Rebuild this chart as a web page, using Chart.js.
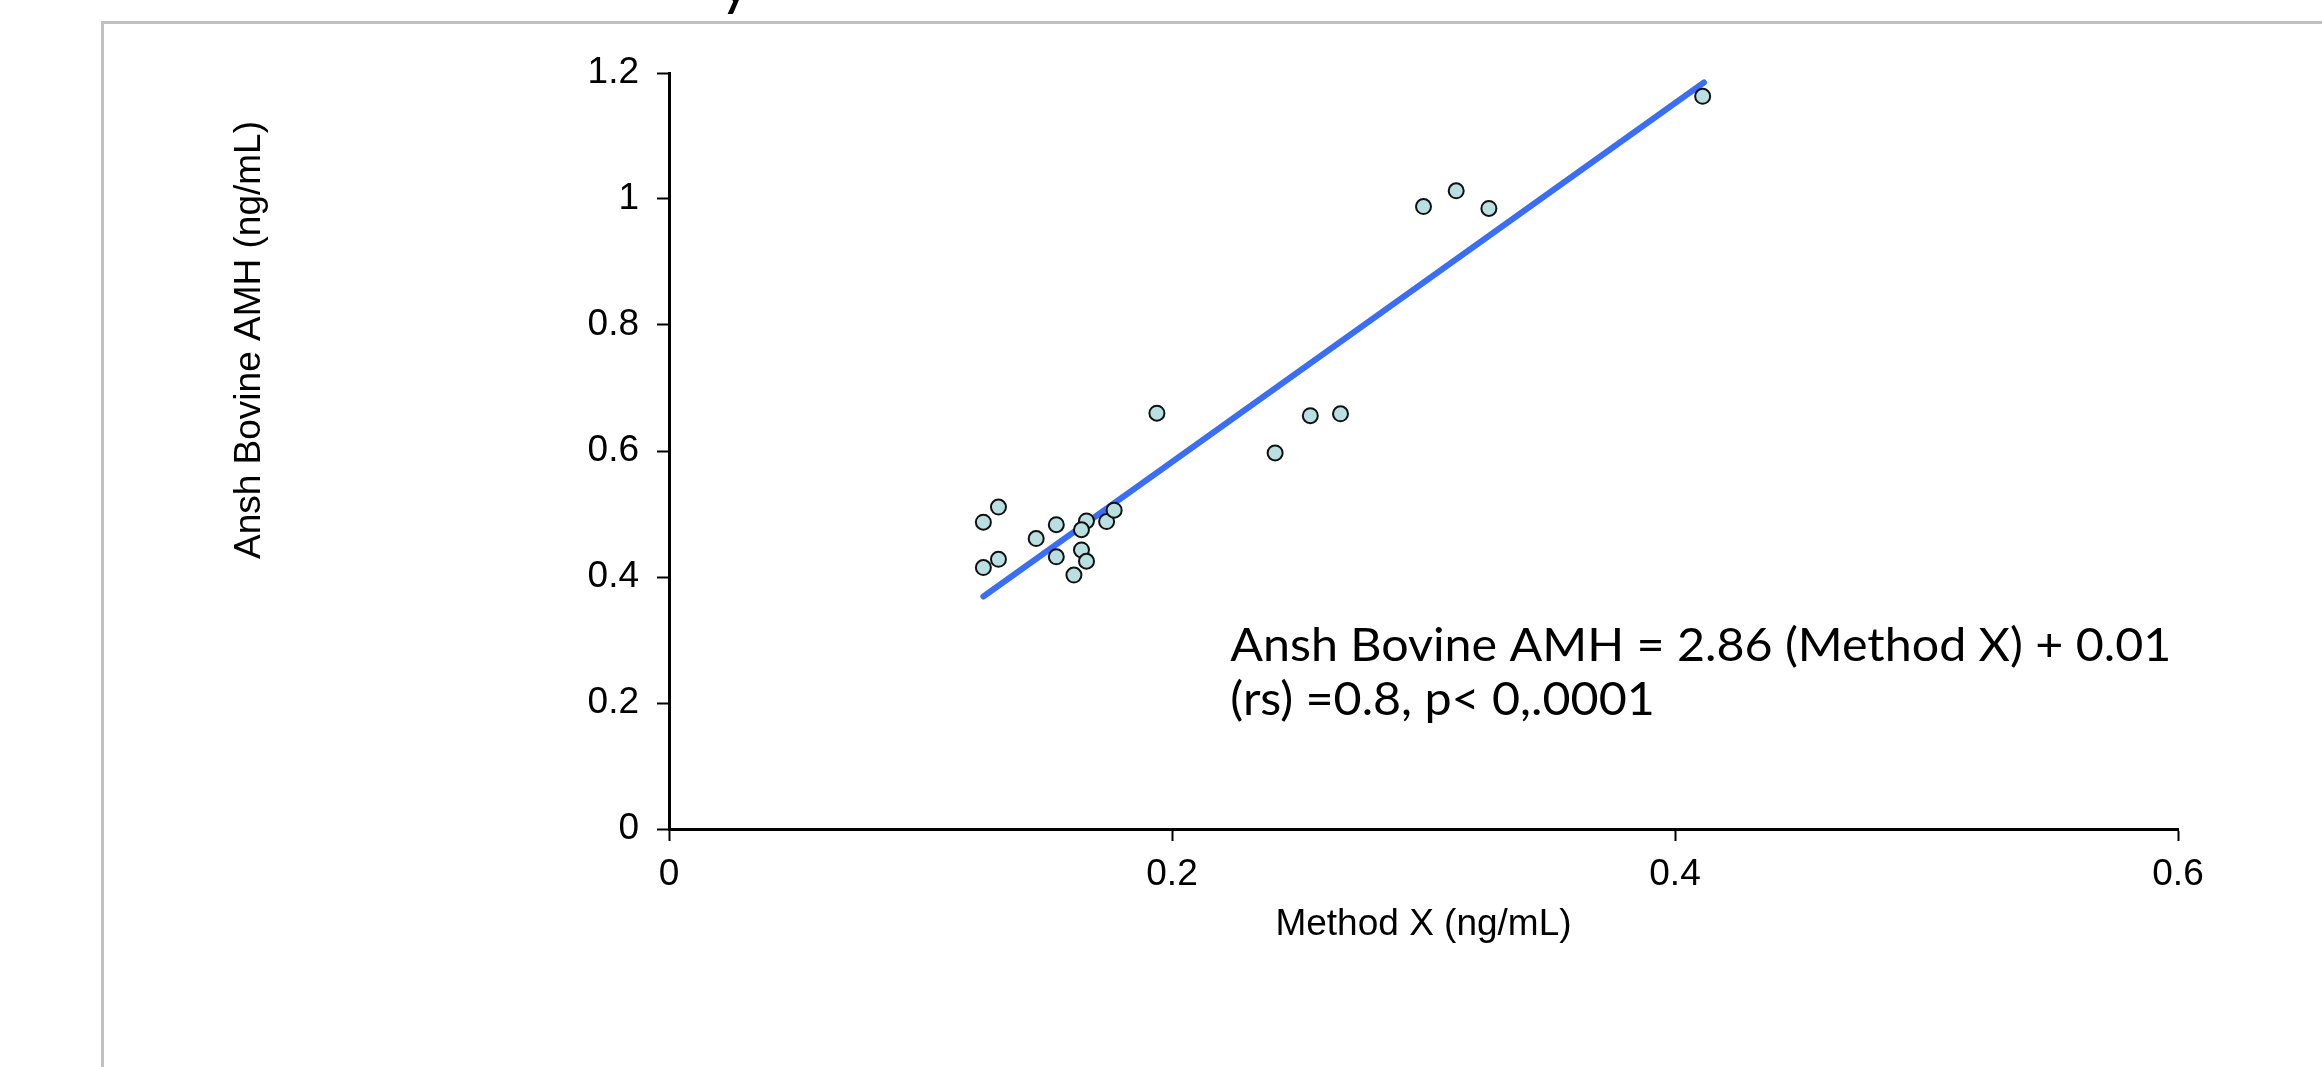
<!DOCTYPE html>
<html>
<head>
<meta charset="utf-8">
<title>Ansh Bovine AMH vs Method X</title>
<script src="https://cdn.jsdelivr.net/npm/chart.js@4.4.0/dist/chart.umd.min.js"></script>
<style>
  html, body { margin: 0; padding: 0; background: #fff; overflow: hidden; }
  #chart { display: block; }
</style>
</head>
<body>
<canvas id="chart" width="2322" height="1067"></canvas>
<script>
// Method X values (x) and Ansh Bovine AMH values (y)
const methodX = [0.125, 0.131, 0.125, 0.131, 0.146, 0.154, 0.154, 0.166, 0.164, 0.164, 0.166,
	0.161, 0.174, 0.177, 0.194, 0.241, 0.255, 0.267, 0.300, 0.313, 0.326, 0.411];
const anshAMH = [0.487, 0.511, 0.415, 0.428, 0.461, 0.483, 0.432, 0.489, 0.475, 0.443, 0.425,
	0.403, 0.488, 0.506, 0.660, 0.597, 0.656, 0.659, 0.988, 1.013, 0.985, 1.163];

// regression line end points
const fitX = [0.125, 0.4115];
const fitY = [0.369, 1.185];

// tick labels
const xTicks = [0, 0.2, 0.4, 0.6];
const yTicks = [0, 0.2, 0.4, 0.6, 0.8, 1, 1.2];

const xTitle = "Method X (ng/mL)";
const yTitle = "Ansh Bovine AMH (ng/mL)";
const annotationLines = ["Ansh Bovine AMH = 2.86 (Method X) + 0.01", "(rs) =0.8, p< 0,.0001"];
// where the annotation starts, in data units (x, baseline of first line)
const annotationAt = [0.2232, 0.266];

const AXIS_FONT = "'Liberation Sans', Arial, sans-serif";

let points = [];
for (let i = 0; i < methodX.length; i++) points.push({ x: methodX[i], y: anshAMH[i] });
let fitLine = [];
for (let i = 0; i < fitX.length; i++) fitLine.push({ x: fitX[i], y: fitY[i] });

// background, grey frame, the cut off title glyph, y title and the equation text
const extras = {
	id: "extras",
	beforeDraw(chart) {
		const ctx = chart.ctx;
		ctx.save();
		ctx.fillStyle = "#fff";
		ctx.fillRect(0, 0, chart.width, chart.height);
		ctx.strokeStyle = "#c0c0c0";
		ctx.lineWidth = 3;
		ctx.strokeRect(102.5, 22.5, chart.width, chart.height);
		// only the tail of the title above the frame is visible
		ctx.fillStyle = "#000";
		ctx.font = "60px Lato";
		ctx.textBaseline = "alphabetic";
		ctx.fillText("y", 720, 4);
		ctx.restore();
	},
	afterDraw(chart) {
		const ctx = chart.ctx;
		ctx.save();
		ctx.fillStyle = "#000";
		// y axis title
		ctx.translate(250, 340);
		ctx.rotate(-Math.PI / 2);
		ctx.font = "37px " + AXIS_FONT;
		ctx.textAlign = "center";
		ctx.textBaseline = "middle";
		ctx.fillText(yTitle, 0, 0);
		ctx.restore();

		// equation, stretched a bit sideways like the original
		ctx.save();
		const px = chart.scales.x.getPixelForValue(annotationAt[0]);
		const py = chart.scales.y.getPixelForValue(annotationAt[1]);
		ctx.font = "46px Lato";
		ctx.fillStyle = "#000";
		ctx.textBaseline = "alphabetic";
		const w = ctx.measureText(annotationLines[0]).width;
		ctx.translate(px, py);
		ctx.scale(941 / w, 1);
		for (let i = 0; i < annotationLines.length; i++) ctx.fillText(annotationLines[i], 0, i * 54);
		ctx.restore();
	}
};

let chart = new Chart(document.getElementById("chart"), {
	data: {
		datasets: [
			{
				type: "scatter",
				data: points,
				backgroundColor: "#b9dfe1",
				borderColor: "#111",
				borderWidth: 2,
				pointRadius: 7.5,
				pointHoverRadius: 7.5
			},
			{
				type: "line",
				data: fitLine,
				borderColor: "#3b6ef6",
				borderWidth: 6,
				borderCapStyle: "round",
				pointRadius: 0,
				fill: false
			}
		]
	},
	options: {
		responsive: false,
		devicePixelRatio: 1,
		animation: false,
		layout: { padding: { left: 0, right: 144, top: 73, bottom: 0 } },
		plugins: {
			legend: { display: false },
			tooltip: { enabled: false }
		},
		scales: {
			x: {
				type: "linear",
				min: 0,
				max: 0.6,
				afterBuildTicks: (scale) => { scale.ticks = xTicks.map(v => ({ value: v })); },
				afterFit: (scale) => { scale.height = 238; },
				ticks: {
					color: "#000",
					padding: 12,
					font: { family: AXIS_FONT, size: 37 },
					callback: (v) => String(v)
				},
				grid: { drawOnChartArea: false, drawTicks: true, tickLength: 12, tickWidth: 2, tickColor: "#000" },
				border: { display: true, color: "#000", width: 3 },
				title: {
					display: true,
					text: xTitle,
					color: "#000",
					font: { family: AXIS_FONT, size: 37 },
					padding: { top: 0, bottom: 120 }
				}
			},
			y: {
				type: "linear",
				min: 0,
				max: 1.2,
				afterBuildTicks: (scale) => { scale.ticks = yTicks.map(v => ({ value: v })); },
				afterFit: (scale) => { scale.width = 669; },
				ticks: {
					color: "#000",
					padding: 18,
					font: { family: AXIS_FONT, size: 37 },
					callback: (v) => String(v)
				},
				grid: { drawOnChartArea: false, drawTicks: true, tickLength: 12, tickWidth: 2, tickColor: "#000" },
				border: { display: true, color: "#000", width: 3 }
			}
		}
	},
	plugins: [extras]
});
</script>
</body>
</html>
